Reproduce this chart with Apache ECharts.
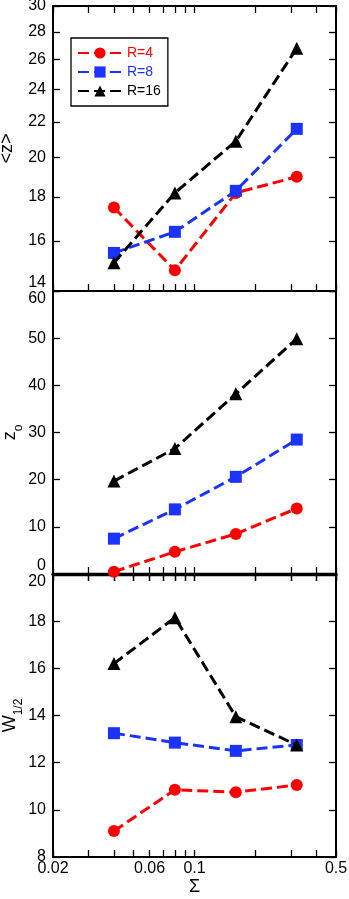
<!DOCTYPE html>
<html>
<head>
<meta charset="utf-8">
<script src="https://cdn.jsdelivr.net/npm/echarts@6/dist/echarts.min.js"></script>
<style>
  html, body { margin: 0; padding: 0; background: #fff; }
  #chart { width: 349px; height: 899px; }
</style>
</head>
<body>
<div id="chart"></div>
<script>
// x values (Sigma) shared by all panels
const sigma = [0.04, 0.08, 0.16, 0.32];

// top panel <z>
const zMeanR4 = [17.5, 14.8, 18.2, 19.0];
const zMeanR8 = [15.5, 16.4, 18.3, 21.6];
const zMeanR16 = [15.1, 18.2, 20.9, 26.8];

// middle panel z_o
const z0R4 = [0.5, 4.7, 8.5, 13.9];
const z0R8 = [7.5, 13.7, 20.6, 28.5];
const z0R16 = [19.7, 26.6, 38.2, 49.9];

// bottom panel W_1/2
const wR4 = [9.1, 10.85, 10.75, 11.05];
const wR8 = [13.25, 12.85, 12.5, 12.75];
const wR16 = [16.2, 18.15, 13.95, 12.75];

const seriesNames = ['R=4', 'R=8', 'R=16'];
const seriesColors = ['#ff0000', '#1a33ff', '#000000'];
const seriesSymbols = ['circle', 'rect', 'triangle'];

// ticks
const xTicks = [0.02, 0.03, 0.04, 0.05, 0.06, 0.07, 0.08, 0.09, 0.1, 0.2, 0.3, 0.4, 0.5];
const xTickLabels = [0.02, 0.06, 0.1, 0.5];
const zMeanTicks = [14, 16, 18, 20, 22, 24, 26, 28, 30];

const FONT = "'Liberation Sans', Arial, sans-serif";

const chart = echarts.init(document.getElementById('chart'));

const gridPos = [
  { top: 6, height: 285 },
  { top: 291, height: 283 },
  { top: 574, height: 283 }
];

const tickStyle = { inside: true, length: 7, lineStyle: { color: '#000', width: 1.3 } };

const xAxes = [];
gridPos.forEach((g, i) => {
  ['bottom', 'top'].forEach(pos => {
    const showLabel = (i === 2 && pos === 'bottom');
    const ax = {
      type: 'log',
      logBase: 10,
      gridIndex: i,
      position: pos,
      min: 0.02,
      max: 0.5,
      axisLine: { show: false },
      splitLine: { show: false },
      axisTick: Object.assign({ customValues: xTicks }, tickStyle),
      axisLabel: {
        show: showLabel,
        customValues: xTickLabels,
        margin: 4,
        fontSize: 16,
        fontFamily: FONT,
        color: '#000',
        formatter: v => String(Number(v.toPrecision(6)))
      }
    };
    if (i === 1 && pos === 'bottom') {
      ax.axisLine = { show: true, lineStyle: { color: '#000', width: 3.3 } };
    }
    if (showLabel) {
      ax.name = 'Σ';
      ax.nameLocation = 'middle';
      ax.nameGap = 21;
      ax.nameMoveOverlap = false;
      ax.nameTextStyle = { fontSize: 18, fontFamily: FONT, color: '#000' };
    }
    xAxes.push(ax);
  });
});

const labelBase = { margin: 7, fontSize: 16, fontFamily: FONT, color: '#000' };
const nameStyle = {
  fontSize: 18, fontFamily: FONT, color: '#000',
  rich: { s: { fontSize: 12, fontFamily: FONT, color: '#000', padding: [18, 0, 0, 0] } }
};

const yDefs = [
  { type: 'log', min: 14, max: 30, ticks: zMeanTicks, name: '<z>', gap: 37, minAlign: 'bottom' },
  { type: 'value', min: 0, max: 60, interval: 10, name: 'z{s|o}', gap: 28, maxAlign: 'top', minAlign: 'bottom' },
  { type: 'value', min: 8, max: 20, interval: 2, name: 'W{s|1/2}', gap: 28, maxAlign: 'top' }
];

const yAxes = [];
yDefs.forEach((d, i) => {
  ['left', 'right'].forEach(pos => {
    const ax = {
      type: d.type,
      gridIndex: i,
      position: pos,
      min: d.min,
      max: d.max,
      axisLine: { show: false },
      splitLine: { show: false },
      axisTick: Object.assign({}, tickStyle),
      axisLabel: Object.assign({ show: pos === 'left' }, labelBase)
    };
    if (d.type === 'log') {
      ax.logBase = 10;
      ax.axisTick.customValues = d.ticks;
      ax.axisLabel.customValues = d.ticks;
    } else {
      ax.interval = d.interval;
    }
    if (d.minAlign) ax.axisLabel.verticalAlignMinLabel = d.minAlign;
    if (d.maxAlign) ax.axisLabel.verticalAlignMaxLabel = d.maxAlign;
    if (pos === 'left') {
      ax.name = d.name;
      ax.nameLocation = 'middle';
      ax.nameRotate = 90;
      ax.nameGap = d.gap;
      ax.nameMoveOverlap = false;
      ax.nameTextStyle = nameStyle;
    }
    yAxes.push(ax);
  });
});

const panels = [
  [zMeanR4, zMeanR8, zMeanR16],
  [z0R4, z0R8, z0R16],
  [wR4, wR8, wR16]
];

const series = [];
panels.forEach((vals, i) => {
  vals.forEach((arr, k) => {
    series.push({
      name: seriesNames[k],
      type: 'line',
      xAxisIndex: i * 2,
      yAxisIndex: i * 2,
      data: sigma.map((x, j) => [x, arr[j]]),
      symbol: seriesSymbols[k],
      symbolSize: k === 2 ? 13 : 12,
      showSymbol: true,
      animation: false,
      z: 2 + k,
      itemStyle: { color: seriesColors[k] },
      lineStyle: { color: seriesColors[k], width: 3, type: [11, 5] }
    });
  });
});

chart.setOption({
  animation: false,
  grid: gridPos.map(g => ({
    left: 53, right: 13, top: g.top, height: g.height,
    outerBoundsMode: 'none',
    containLabel: false,
    show: true, borderColor: '#000', borderWidth: 2, backgroundColor: 'transparent'
  })),
  legend: {
    left: 71,
    top: 38,
    orient: 'vertical',
    itemWidth: 44,
    itemHeight: 14,
    itemGap: 5,
    padding: [8, 7, 8, 6],
    borderColor: '#000',
    borderWidth: 1.3,
    backgroundColor: '#fff',
    textStyle: { fontSize: 14, fontFamily: FONT },
    data: seriesNames.map((n, k) => ({ name: n, textStyle: { color: seriesColors[k] } }))
  },
  xAxis: xAxes,
  yAxis: yAxes,
  series: series
});
</script>
</body>
</html>
